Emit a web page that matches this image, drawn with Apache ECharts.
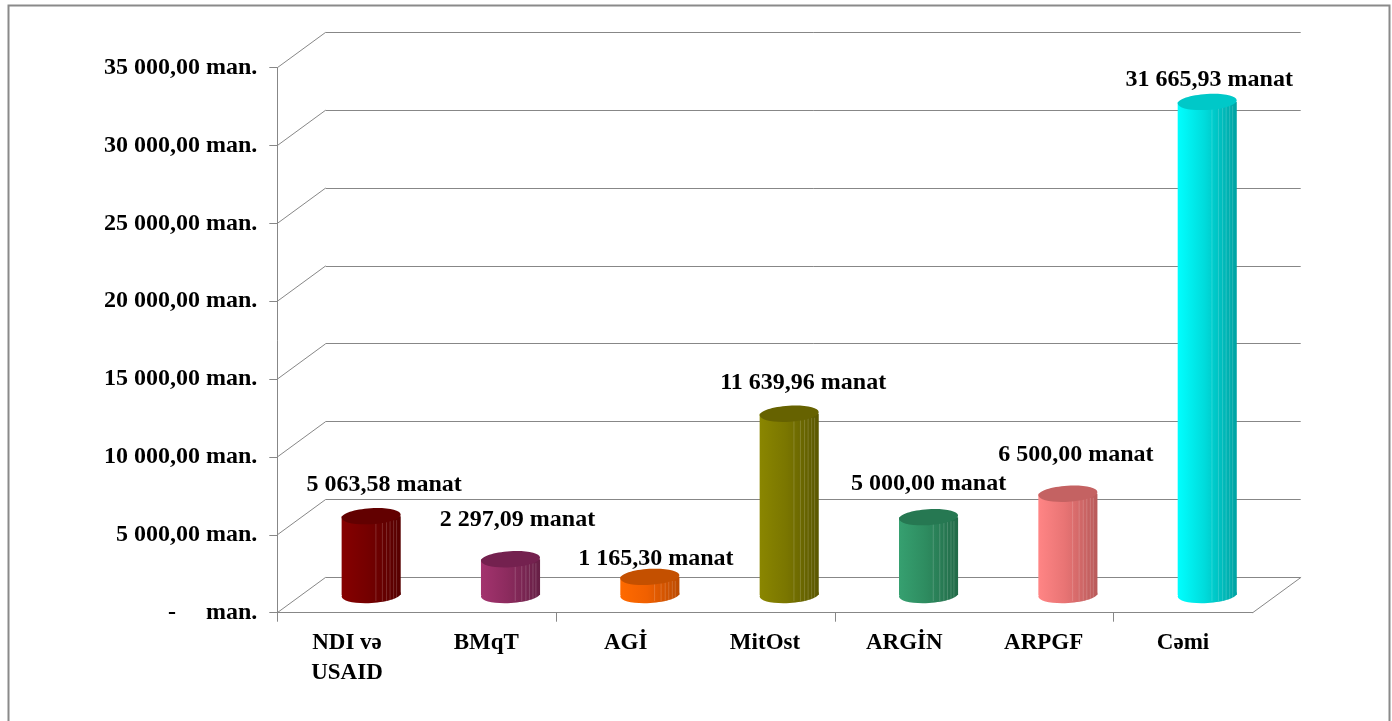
<!DOCTYPE html>
<html>
<head>
<meta charset="utf-8">
<script src="https://cdn.jsdelivr.net/npm/echarts@6/dist/echarts.min.js"></script>
<style>
  html, body { margin: 0; padding: 0; background: #ffffff; }
  #chart { width: 1392px; height: 721px; }
</style>
</head>
<body>
<div id="chart"></div>
<script>
// ---- data ----
const categories = ['NDI və\nUSAID', 'BMqT', 'AGİ', 'MitOst', 'ARGİN', 'ARPGF', 'Cəmi'];
const values = [5063.58, 2297.09, 1165.30, 11639.96, 5000.00, 6500.00, 31665.93];
const yTicks = [0, 5000, 10000, 15000, 20000, 25000, 30000, 35000];

// ---- style ----
const barColors = [
  { light: '#860000', mid: '#740000', dark: '#560000', top: '#620000' },
  { light: '#a3336e', mid: '#8c2b5e', dark: '#661f45', top: '#74214f' },
  { light: '#ff6a00', mid: '#f06000', dark: '#bb4a00', top: '#c45000' },
  { light: '#8a8600', mid: '#7a7600', dark: '#5a5700', top: '#666200' },
  { light: '#36a070', mid: '#2e8c60', dark: '#226a48', top: '#267852' },
  { light: '#ff8585', mid: '#e87474', dark: '#b85a5a', top: '#c46262' },
  { light: '#00ffff', mid: '#00dcdc', dark: '#00a2a2', top: '#00c8c8' }
];
// label nudges (px) relative to the top of each cylinder, as placed in the original
const labelOffsets = [[13, -31], [7, -39], [6, -18], [14, -31], [0, -33], [8, -39], [2, -22]];
const DX = 48.4, DY = -35.4;      // depth offset of the 3D box
const GRID_COLOR = '#878787';
const FONT = 'Liberation Serif';

function fmtNum(v) {
  const parts = v.toFixed(2).split('.');
  const intPart = parts[0].replace(/\B(?=(\d{3})+(?!\d))/g, ' ');
  return intPart + ',' + parts[1];
}

const chart = echarts.init(document.getElementById('chart'), null, { renderer: 'canvas' });

function cylinderItem(params, api) {
  const i = api.value(0), v = api.value(1);
  const base = api.coord([i, 0]);
  const top = api.coord([i, v]);
  const bw = api.size([1, 0])[0];
  const r = bw * 0.212;
  const ry = 8;
  const cx = base[0] + DX / 2;
  const by = base[1] + DY / 2;
  const ty = top[1] + DY / 2;
  const c = barColors[i];
  const grad = new echarts.graphic.LinearGradient(0, 0, 1, 0, [
    { offset: 0, color: c.light },
    { offset: 0.45, color: c.mid },
    { offset: 1, color: c.dark }
  ]);
  const rot = 0.06;
  const children = [
    { type: 'ellipse', shape: { cx: cx, cy: by, rx: r, ry: ry }, rotation: rot, originX: cx, originY: by,
      style: { fill: grad } },
    { type: 'rect', shape: { x: cx - r, y: ty, width: 2 * r, height: by - ty }, style: { fill: grad } }
  ];
  [0.58, 0.69, 0.76, 0.82, 0.88, 0.93].forEach(function (f) {
    const x = cx - r + 2 * r * f;
    children.push({ type: 'line', shape: { x1: x, y1: ty + 4, x2: x, y2: by + 6 },
      style: { stroke: 'rgba(255,255,255,0.17)', lineWidth: 1 } });
  });
  children.push({ type: 'ellipse', shape: { cx: cx, cy: ty, rx: r, ry: ry }, rotation: rot, originX: cx, originY: ty,
    style: { fill: c.top } });
  const off = labelOffsets[i];
  children.push({ type: 'text', style: {
    x: cx + off[0], y: ty + off[1], text: fmtNum(v) + ' manat', align: 'center', verticalAlign: 'middle',
    font: 'bold 24px "' + FONT + '"', fill: '#000000' } });
  return { type: 'group', children: children };
}

function wallItem(params, api) {
  const v = api.value(1);
  const p = api.coord([0, v]);
  const bw = api.size([1, 0])[0];
  const left = p[0] - bw / 2;
  const lineStyle = { stroke: GRID_COLOR, lineWidth: 1 };
  const children = [
    { type: 'line', shape: { x1: left, y1: p[1], x2: left + DX, y2: p[1] + DY }, style: lineStyle }
  ];
  if (v === 0) {
    const q = api.coord([categories.length - 1, 0]);
    const right = q[0] + bw / 2;
    children.push({ type: 'line', shape: { x1: right, y1: q[1], x2: right + DX, y2: q[1] + DY }, style: lineStyle });
    // category ticks every second category boundary
    for (let k = 0; k < categories.length; k += 2) {
      const t = api.coord([k, 0]);
      const tx = Math.round(t[0] - bw / 2) + 0.5;
      children.push({ type: 'line', shape: { x1: tx, y1: t[1], x2: tx, y2: t[1] + 9 }, style: lineStyle });
    }
  }
  return { type: 'group', children: children };
}

const option = {
  animation: false,
  backgroundColor: '#ffffff',
  graphic: [{
    type: 'rect', left: 6, top: 3, shape: { width: 1381, height: 760 },
    style: { fill: 'none', stroke: '#8a8a8a', lineWidth: 2 }, z: 100, silent: true
  }],
  grid: [
    { left: 277.3, right: 139.3, top: 67.7, bottom: 108.3 },
    { left: 325.7, right: 91.3, top: 32.3, bottom: 143.7 }
  ],
  xAxis: [
    { type: 'category', gridIndex: 0, data: categories, boundaryGap: true,
      axisLine: { show: true, lineStyle: { color: GRID_COLOR, width: 1 } },
      axisTick: { show: false },
      axisLabel: { interval: 0, margin: 15, color: '#000', fontFamily: FONT, fontWeight: 'bold',
        fontSize: 23, lineHeight: 30 },
      splitLine: { show: false } },
    { type: 'category', gridIndex: 1, data: categories, show: false }
  ],
  yAxis: [
    { type: 'value', gridIndex: 0, min: 0, max: 35000, interval: 5000,
      axisLine: { show: true, lineStyle: { color: GRID_COLOR, width: 1 } },
      axisTick: { show: true, length: 8, lineStyle: { color: GRID_COLOR } },
      splitLine: { show: false },
      axisLabel: { margin: 20, color: '#000', fontFamily: FONT, fontWeight: 'bold', fontSize: 24,
        formatter: function (v) { return v === 0 ? '-     man.' : fmtNum(v) + ' man.'; } } },
    { type: 'value', gridIndex: 1, min: 0, max: 35000, interval: 5000,
      axisLine: { show: false }, axisTick: { show: false }, axisLabel: { show: false },
      splitLine: { show: true, lineStyle: { color: GRID_COLOR, width: 1 } } }
  ],
  series: [
    { type: 'custom', name: 'walls', xAxisIndex: 0, yAxisIndex: 0, clip: false, silent: true, z: 1,
      data: yTicks.map(function (t) { return [0, t]; }), renderItem: wallItem },
    { type: 'custom', name: 'cylinders', xAxisIndex: 0, yAxisIndex: 0, clip: false, z: 5,
      encode: { x: 0, y: 1 },
      data: values.map(function (v, i) { return [i, v]; }), renderItem: cylinderItem }
  ]
};
chart.setOption(option);
</script>
</body>
</html>
